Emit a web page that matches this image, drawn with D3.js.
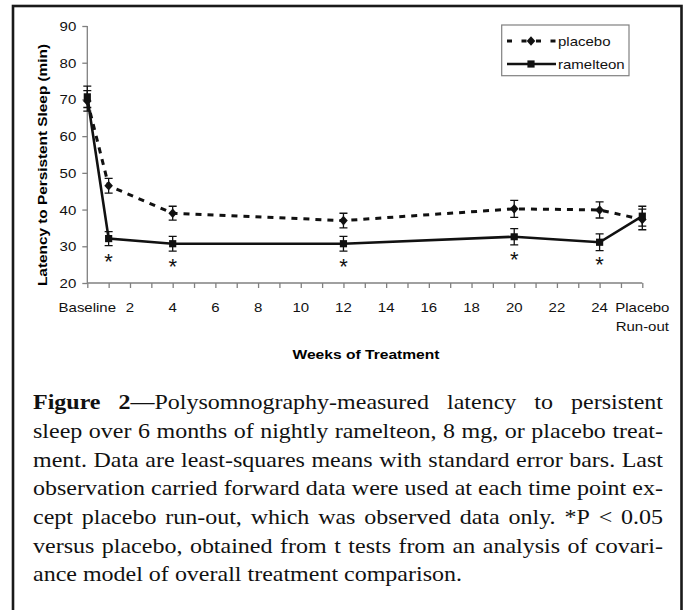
<!DOCTYPE html>
<html>
<head>
<meta charset="utf-8">
<script src="https://cdn.jsdelivr.net/npm/d3@7"></script>
<style>
    html, body { margin: 0; padding: 0; background: #fff; }
    svg { display: block; }
</style>
</head>
<body>
<svg id="chart" width="687" height="610"></svg>
<script>
// Values (minutes)
const weeks = [0, 1, 4, 12, 20, 24, 26];
const placebo = [69.6, 46.5, 39.0, 37.0, 40.2, 39.9, 37.3];
const placeboSE = [2.8, 2.0, 1.9, 2.0, 2.3, 2.2, 2.8];
const ramelteon = [70.7, 32.1, 30.7, 30.7, 32.6, 31.1, 38.2];
const ramelteonSE = [2.9, 1.9, 2.0, 2.0, 2.2, 2.3, 2.7];
const significantWeeks = [1, 4, 12, 20, 24];

// Axis ticks
const yTicks = [20, 30, 40, 50, 60, 70, 80, 90];
const xTickWeeks = d3.range(0, 27);
const xLabelWeeks = [0, 2, 4, 6, 8, 10, 12, 14, 16, 18, 20, 22, 24, 26];
const xLabels = ["Baseline", "2", "4", "6", "8", "10", "12", "14", "16", "18", "20", "22", "24", "Placebo|Run-out"];

// Caption lines, as broken in the original (**...** = bold)
const captionLines = [
    "**Figure** **2**—Polysomnography-measured latency to persistent",
    "sleep over 6 months of nightly ramelteon, 8 mg, or placebo treat-",
    "ment. Data are least-squares means with standard error bars. Last",
    "observation carried forward data were used at each time point ex-",
    "cept placebo run-out, which was observed data only. *P < 0.05",
    "versus placebo, obtained from t tests from an analysis of covari-",
    "ance model of overall treatment comparison."
];

const SANS = "'Liberation Sans', Arial, sans-serif";
const SERIF = "'Liberation Serif', 'Times New Roman', serif";
const STRETCH = 1.2; // the original's text is drawn a bit wide

const svg = d3.select("#chart");

// Outer frame (open at the bottom of the crop)
svg.append("rect")
    .attr("x", 13).attr("y", 6)
    .attr("width", 668.5).attr("height", 640)
    .attr("fill", "none").attr("stroke", "#1a1a1a").attr("stroke-width", 2.6);

const x = d3.scaleLinear().domain([0, 26]).range([87.3, 642.3]);
const y = d3.scaleLinear().domain([20, 90]).range([283, 26]);

// Y axis
const yAxis = svg.append("g")
    .attr("transform", `translate(${x(0)},0)`)
    .call(d3.axisLeft(y).tickValues(yTicks).tickSize(5).tickPadding(6));
yAxis.selectAll("path, line").attr("stroke", "#808080").attr("stroke-width", 1.3);
yAxis.select(".domain").attr("d", `M0,${y(90)}V${y(20)}`);
yAxis.selectAll("text")
    .attr("font-family", SANS).attr("font-size", 12.5).attr("fill", "#111")
    .attr("dy", "0.36em")
    .attr("transform", `translate(-11,0) scale(${STRETCH},1) translate(11,0)`);

// X axis
const xAxis = svg.append("g")
    .attr("transform", `translate(0,${y(20)})`)
    .call(d3.axisBottom(x).tickValues(xTickWeeks).tickSize(5).tickFormat(() => ""));
xAxis.selectAll("path, line").attr("stroke", "#808080").attr("stroke-width", 1.3);
xAxis.select(".domain").attr("d", `M${x(0)},0H${x(26)}`);

const xLab = svg.append("g");
xLabelWeeks.forEach((w, i) => {
    const parts = xLabels[i].split("|");
    const t = xLab.append("text")
        .attr("transform", `translate(${x(w)},${y(20) + 28.7}) scale(${STRETCH},1)`)
        .attr("text-anchor", "middle")
        .attr("font-family", SANS).attr("font-size", 12.5).attr("fill", "#111");
    parts.forEach((p, j) => {
        t.append("tspan").attr("x", 0).attr("dy", j === 0 ? 0 : 19.3).text(p);
    });
});

// Axis titles
svg.append("text")
    .attr("transform", `translate(47,165) rotate(-90)`)
    .attr("text-anchor", "middle")
    .attr("font-family", SANS).attr("font-size", 12.5).attr("font-weight", "bold")
    .attr("textLength", 242).attr("lengthAdjust", "spacingAndGlyphs")
    .text("Latency to Persistent Sleep (min)");

svg.append("text")
    .attr("transform", `translate(366,359) scale(${STRETCH},1)`)
    .attr("text-anchor", "middle")
    .attr("font-family", SANS).attr("font-size", 13).attr("font-weight", "bold")
    .text("Weeks of Treatment");

// Marker shapes
function diamond(cx, cy) {
    return `M${cx},${cy - 4.8}L${cx + 4.3},${cy}L${cx},${cy + 4.8}L${cx - 4.3},${cy}Z`;
}
function square(cx, cy) {
    return `M${cx - 3.6},${cy - 3.6}h7.2v7.2h-7.2Z`;
}

const series = [
    {name: "placebo", values: placebo, se: placeboSE, dash: "6,6", width: 3, marker: diamond},
    {name: "ramelteon", values: ramelteon, se: ramelteonSE, dash: null, width: 2.6, marker: square}
];

const plot = svg.append("g");

// Error bars
series.forEach(s => {
    const g = plot.append("g").attr("stroke", "#111").attr("stroke-width", 1.3).attr("fill", "none");
    weeks.forEach((w, i) => {
        const top = y(s.values[i] + s.se[i]);
        const bot = y(s.values[i] - s.se[i]);
        g.append("path")
            .attr("d", `M${x(w)},${top}V${bot}M${x(w) - 4},${top}h8M${x(w) - 4},${bot}h8`);
    });
});

// Lines
const line = d3.line().x((d, i) => x(weeks[i])).y(d => y(d));
series.forEach(s => {
    plot.append("path")
        .datum(s.values)
        .attr("d", line)
        .attr("fill", "none")
        .attr("stroke", "#111")
        .attr("stroke-width", s.width)
        .attr("stroke-dasharray", s.dash);
});

// Markers
series.forEach(s => {
    plot.append("g").selectAll("path")
        .data(s.values)
        .join("path")
        .attr("d", (d, i) => s.marker(x(weeks[i]), y(d)))
        .attr("fill", "#111");
});

// Significance asterisks under the ramelteon points
svg.append("g").selectAll("text")
    .data(significantWeeks)
    .join("text")
    .attr("x", d => x(d))
    .attr("y", d => y(ramelteon[weeks.indexOf(d)]) + 30)
    .attr("text-anchor", "middle")
    .attr("font-family", SANS).attr("font-size", 22).attr("fill", "#111")
    .text("*");

// Legend
const legend = svg.append("g");
legend.append("rect")
    .attr("x", 501.7).attr("y", 25).attr("width", 127.3).attr("height", 50.7)
    .attr("fill", "#fff").attr("stroke", "#808080").attr("stroke-width", 1.2);
const legendRows = [41, 64];
series.forEach((s, i) => {
    const ly = legendRows[i];
    legend.append("path")
        .attr("d", `M507,${ly}H556`)
        .attr("stroke", "#111").attr("stroke-width", s.width)
        .attr("stroke-dasharray", s.dash ? "5,9.5" : null);
    legend.append("path").attr("d", s.marker(531, ly)).attr("fill", "#111");
    legend.append("text")
        .attr("transform", `translate(558,${ly + 5}) scale(${STRETCH},1)`)
        .attr("font-family", SANS).attr("font-size", 12.5).attr("fill", "#111")
        .text(s.name);
});

// Caption, justified line by line
const capG = svg.append("g").attr("transform", `translate(33,0) scale(${STRETCH},1)`);
const capWidth = 630 / STRETCH;
const capFont = 20;

function segments(word) {
    const out = [];
    const re = /\*\*(.+?)\*\*/g;
    let last = 0, m;
    while ((m = re.exec(word))) {
        if (m.index > last) out.push([word.slice(last, m.index), false]);
        out.push([m[1], true]);
        last = re.lastIndex;
    }
    if (last < word.length) out.push([word.slice(last), false]);
    return out;
}

captionLines.forEach((ln, li) => {
    const baseY = 409.3 + li * 28.7;
    const words = ln.split(" ");
    const nodes = words.map(w => {
        const t = capG.append("text")
            .attr("y", baseY)
            .attr("font-family", SERIF).attr("font-size", capFont).attr("fill", "#111");
        segments(w).forEach(([txt, bold]) => {
            t.append("tspan").attr("font-weight", bold ? "bold" : null).text(txt);
        });
        return t;
    });
    const widths = nodes.map(n => n.node().getComputedTextLength());
    const total = d3.sum(widths);
    const isLast = li === captionLines.length - 1;
    const gap = isLast ? capFont * 0.25 : (capWidth - total) / (words.length - 1);
    let cx = 0;
    nodes.forEach((n, i) => {
        n.attr("x", cx);
        cx += widths[i] + gap;
    });
});
</script>
</body>
</html>
